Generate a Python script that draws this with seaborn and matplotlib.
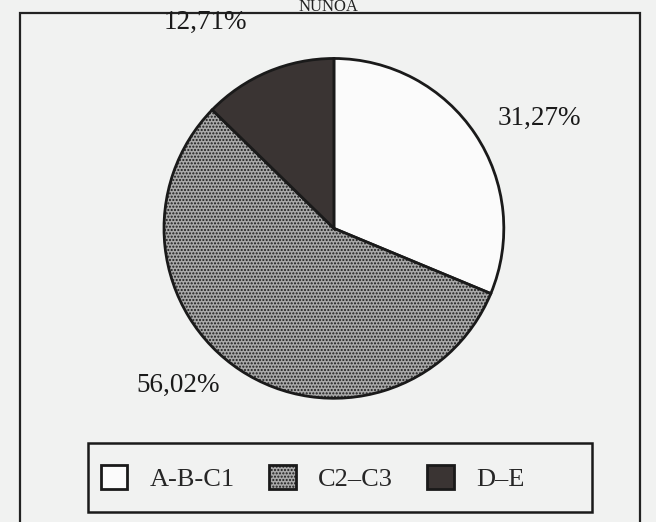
import numpy as np
import seaborn as sns
import matplotlib.pyplot as plt
from matplotlib.patches import Rectangle, Patch

# data
groups = ['A-B-C1', 'C2–C3', 'D–E']
shares = [31.27, 56.02, 12.71]
share_labels = ['31,27%', '56,02%', '12,71%']
title = 'ÑUÑOA'

sns.set_style('white')
plt.rcParams['font.family'] = ['Liberation Serif', 'DejaVu Serif']

bg = '#f1f2f1'
face_colors = ['#fbfbfb', '#a9a9a9', '#3a3433']
hatches = ['', '.....', '']

fig = plt.figure(figsize=(6.56, 5.22), dpi=100, facecolor=bg)

# outer frame of the scanned figure
fig.patches.append(Rectangle((20 / 656, -0.05), 620 / 656, 1 - 13 / 522 + 0.05,
                             transform=fig.transFigure, fill=False,
                             edgecolor='#222222', linewidth=1.6))
fig.text(0.5, 1 - 11 / 522, title, ha='center', va='baseline', fontsize=12, color='#222222')

ax = fig.add_axes([0.250, 0.237, 0.518, 0.651])
ax.set_facecolor(bg)
wedges, _ = ax.pie(shares, colors=face_colors, startangle=90, counterclock=False,
                   wedgeprops={'edgecolor': '#1a1a1a', 'linewidth': 2.0})
for w, h in zip(wedges, hatches):
    if h:
        w.set_hatch(h)
ax.set_xlim(-1, 1)
ax.set_ylim(-1, 1)
ax.set_aspect('equal')
ax.axis('off')

# percentage labels
label_pos = {'31,27%': (539, 118), '56,02%': (178, 385), '12,71%': (205, 22)}
for lab in share_labels:
    x, y = label_pos[lab]
    fig.text(x / 656, 1 - y / 522, lab, ha='center', va='center', fontsize=19.5, color='#1a1a1a')

# legend box (drawn separately, the scan's box is wider on the right)
fig.patches.append(Rectangle((88 / 656, 1 - 512 / 522), 504 / 656, 69 / 522,
                             transform=fig.transFigure, fill=False,
                             edgecolor='#1a1a1a', linewidth=1.8))
handles = [Patch(facecolor=c, edgecolor='#1a1a1a', hatch=h, linewidth=2.0)
           for c, h in zip(face_colors, hatches)]
leg = fig.legend(handles, groups, loc='center left', bbox_to_anchor=(101 / 656, 1 - 478 / 522),
                 ncol=3, frameon=False, fontsize=19,
                 handlelength=1.0, handleheight=1.0, handletextpad=0.85,
                 columnspacing=1.3, borderpad=0, borderaxespad=0)

fig.savefig('out.png', dpi=100, facecolor=bg)
